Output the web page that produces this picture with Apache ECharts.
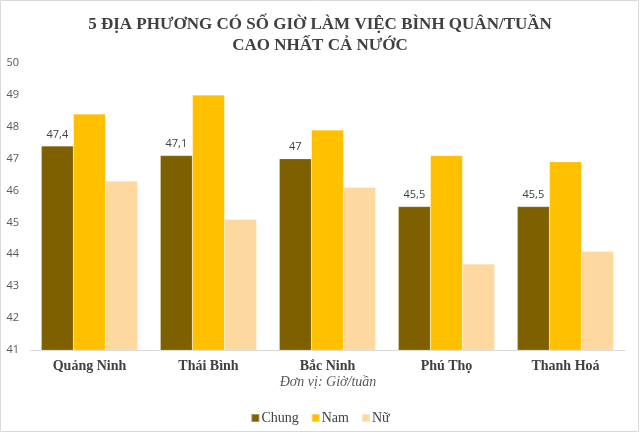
<!DOCTYPE html>
<html><head><meta charset="utf-8">
<script src="https://cdn.jsdelivr.net/npm/echarts@6/dist/echarts.min.js"></script>
<style>html,body{margin:0;padding:0;background:#fff}#c{width:640px;height:433px}</style>
</head><body><div id="c"></div>
<script>
const categories = ['Quảng Ninh', 'Thái Bình', 'Bắc Ninh', 'Phú Thọ', 'Thanh Hoá'];
const chung = [47.4, 47.1, 47, 45.5, 45.5];
const nam = [48.4, 49.0, 47.9, 47.1, 46.9];
const nu = [46.3, 45.1, 46.1, 43.7, 44.1];
const seriesNames = ['Chung', 'Nam', 'Nữ'];
const colors = ['#7F6000', '#FFC000', '#FFD8A0'];

const chart = echarts.init(document.getElementById('c'));
const serif = '"Liberation Serif", "DejaVu Serif", serif';
const sans = '"Open Sans", "Liberation Sans", sans-serif';
const mk = (name, data, color, label) => ({
  name, type: 'bar', data, barGap: '0%', barCategoryGap: '19%',
  itemStyle: { color, borderColor: 'rgba(255,255,255,0.35)', borderWidth: 0.5 },
  label: label ? { show: true, position: 'top', distance: 6, color: '#404040', fontFamily: sans, fontSize: 11,
    formatter: p => String(p.value).replace('.', ',') } : { show: false }
});
chart.setOption({
  animation: false,
  title: {
    text: '5 ĐỊA PHƯƠNG CÓ SỐ GIỜ LÀM VIỆC BÌNH QUÂN/TUẦN\nCAO NHẤT CẢ NƯỚC',
    left: 'center', top: 9,
    textStyle: { fontFamily: serif, fontWeight: 'bold', fontSize: 17, color: '#404040', lineHeight: 21 }
  },
  color: colors,
  legend: {
    data: seriesNames, left: 'center', top: 406, itemWidth: 8, itemHeight: 8, itemGap: 12,
    icon: 'rect', textStyle: { fontFamily: serif, fontSize: 14, color: '#404040', padding: [0, 0, 0, -3] }
  },
  grid: { left: 30, right: 15, top: 63, bottom: 83 },
  xAxis: {
    type: 'category', data: categories,
    axisLine: { lineStyle: { color: '#d9d9d9' } }, axisTick: { show: false },
    axisLabel: { fontFamily: serif, fontWeight: 'bold', fontSize: 14, color: '#404040', margin: 9 }
  },
  yAxis: {
    type: 'value', min: 41, max: 50, interval: 1,
    splitLine: { show: false }, axisLine: { show: false }, axisTick: { show: false },
    axisLabel: { fontFamily: sans, fontSize: 11, color: '#595959', margin: 11 }
  },
  graphic: [
    { type: 'text', x: 328, y: 382, style: { text: 'Đơn vị: Giờ/tuần', align: 'center', verticalAlign: 'middle', font: 'italic 14px "Liberation Serif", serif', fill: '#595959' } },
    { type: 'rect', shape: { x: 0.5, y: 0.5, width: 638, height: 431 }, style: { fill: 'none', stroke: '#d9d9d9', lineWidth: 1 } }
  ],
  series: [mk(seriesNames[0], chung, colors[0], true), mk(seriesNames[1], nam, colors[1], false), mk(seriesNames[2], nu, colors[2], false)]
});
</script></body></html>
